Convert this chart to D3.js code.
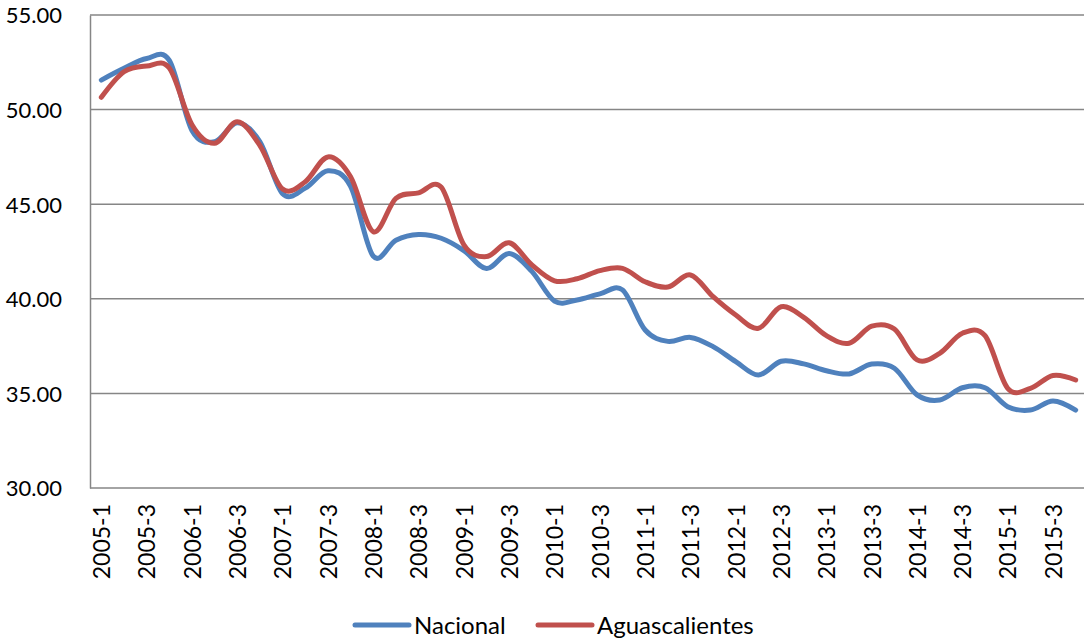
<!doctype html>
<html lang="es">
<head>
<meta charset="utf-8">
<title>Nacional vs Aguascalientes</title>
<script src="https://d3js.org/d3.v7.min.js"></script>
<style>
  html, body { margin: 0; padding: 0; background: #fff; }
  svg text { font-family: Lato, "Open Sans", sans-serif; fill: #000; }
</style>
</head>
<body>
<div id="chart"></div>
<script>
// quarters 2005-1 .. 2015-4
var periods = [];
for (var yr = 2005; yr <= 2015; yr++) {
    for (var q = 1; q <= 4; q++) periods.push(yr + "-" + q);
}

var nacional = [
    51.56, 52.18, 52.70, 52.60, 48.90, 48.30, 49.30, 48.30,
    45.55, 45.85, 46.77, 45.95, 42.25, 43.10, 43.40, 43.20,
    42.55, 41.60, 42.40, 41.45, 39.88, 39.94, 40.26, 40.47,
    38.35, 37.75, 37.96, 37.47, 36.68, 35.97, 36.70, 36.56,
    36.20, 36.03, 36.55, 36.33, 34.92, 34.65, 35.30, 35.30,
    34.30, 34.12, 34.60, 34.12
];

var aguascalientes = [
    50.65, 52.00, 52.30, 52.20, 49.20, 48.22, 49.36, 48.10,
    45.80, 46.19, 47.50, 46.45, 43.55, 45.31, 45.60, 45.90,
    42.85, 42.23, 42.96, 41.79, 40.95, 41.06, 41.49, 41.61,
    40.90, 40.62, 41.26, 40.11, 39.14, 38.44, 39.58, 39.02,
    38.05, 37.65, 38.55, 38.40, 36.77, 37.12, 38.18, 38.05,
    35.27, 35.27, 35.95, 35.71
];

var yTicks = [30, 35, 40, 45, 50, 55];
var seriesNames = ["Nacional", "Aguascalientes"];
var seriesColors = ["#4F81BD", "#C0504D"];

var width = 1084, height = 639;
var plotLeft = 90, plotRight = 1087, plotTop = 15, plotBottom = 488;

var svg = d3.select("#chart").append("svg")
    .attr("width", width)
    .attr("height", height);

var x = d3.scalePoint()
    .domain(periods)
    .range([plotLeft, plotRight])
    .padding(0.5);

var y = d3.scaleLinear()
    .domain([30, 55])
    .range([plotBottom, plotTop]);

// gridlines
svg.append("g")
    .selectAll("line")
    .data(yTicks.filter(function (d) { return d > 30; }))
    .enter().append("line")
    .attr("x1", plotLeft).attr("x2", width)
    .attr("y1", function (d) { return y(d); })
    .attr("y2", function (d) { return y(d); })
    .attr("stroke", "#868686")
    .attr("stroke-width", 1.5);

// y axis
var yAxis = svg.append("g")
    .attr("transform", "translate(" + plotLeft + ",0)")
    .call(d3.axisLeft(y).tickValues(yTicks).tickSize(0).tickPadding(28)
        .tickFormat(d3.format(".2f")));
yAxis.select(".domain").attr("stroke", "#868686").attr("stroke-width", 1.5);
yAxis.selectAll("text").style("font-size", "22px").attr("dy", "0.36em");

// x axis
var xAxis = svg.append("g")
    .attr("transform", "translate(0," + plotBottom + ")")
    .call(d3.axisBottom(x)
        .tickValues(periods.filter(function (d, i) { return i % 2 === 0; }))
        .tickSize(0));
xAxis.select(".domain").attr("stroke", "#868686").attr("stroke-width", 1.5)
    .attr("d", "M" + plotLeft + ",0H" + width);
xAxis.selectAll("text")
    .style("font-size", "23px")
    .attr("text-anchor", "end")
    .attr("transform", "translate(0,16) rotate(-90)")
    .attr("x", 0).attr("y", 0).attr("dy", "0.36em");

// lines
var line = d3.line()
    .x(function (d, i) { return x(periods[i]); })
    .y(function (d) { return y(d); })
    .curve(d3.curveCardinal.tension(0));

[nacional, aguascalientes].forEach(function (s, k) {
    svg.append("path")
        .datum(s)
        .attr("fill", "none")
        .attr("stroke", seriesColors[k])
        .attr("stroke-width", 5)
        .attr("stroke-linecap", "round")
        .attr("stroke-linejoin", "round")
        .attr("d", line);
});

// legend
var legendX = [355, 538];
var legend = svg.append("g");
seriesNames.forEach(function (name, k) {
    legend.append("line")
        .attr("x1", legendX[k]).attr("x2", legendX[k] + 54)
        .attr("y1", 625).attr("y2", 625)
        .attr("stroke", seriesColors[k])
        .attr("stroke-width", 5)
        .attr("stroke-linecap", "round");
    legend.append("text")
        .attr("x", legendX[k] + 59)
        .attr("y", 634)
        .style("font-size", "24px")
        .text(name);
});
</script>
</body>
</html>
